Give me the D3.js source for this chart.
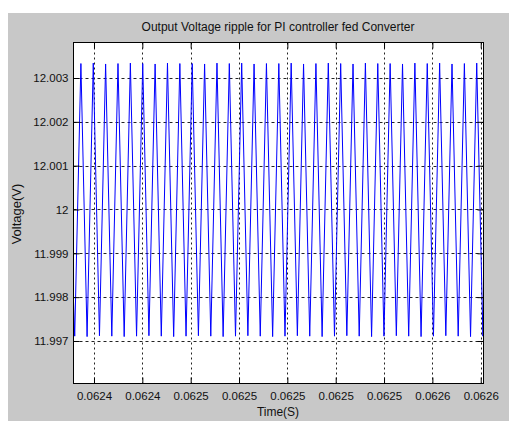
<!DOCTYPE html>
<html lang="en">

<head>
    <meta charset="UTF-8" />
    <script src="https://d3js.org/d3.v7.min.js"></script>
    <title>Output Voltage ripple</title>
    <style>
        body {
            margin: 0;
            background: #fff;
        }

        svg {
            display: block;
            font-family: "Liberation Sans", Arial, sans-serif;
        }
    </style>
</head>

<body>
    <svg width="509" height="421"></svg>
</body>
<script>
    // sample times (s): one start point, then peak / trough pairs, then end point
    const timeS = [
        0.06241152, 0.06241202,
        0.06241458, 0.06241714,
        0.06241970, 0.06242226,
        0.06242481, 0.06242737,
        0.06242993, 0.06243249,
        0.06243505, 0.06243761,
        0.06244017, 0.06244273,
        0.06244529, 0.06244784,
        0.06245040, 0.06245296,
        0.06245552, 0.06245808,
        0.06246064, 0.06246320,
        0.06246576, 0.06246832,
        0.06247088, 0.06247343,
        0.06247599, 0.06247855,
        0.06248111, 0.06248367,
        0.06248623, 0.06248879,
        0.06249135, 0.06249391,
        0.06249647, 0.06249902,
        0.06250158, 0.06250414,
        0.06250670, 0.06250926,
        0.06251182, 0.06251438,
        0.06251694, 0.06251950,
        0.06252206, 0.06252461,
        0.06252717, 0.06252973,
        0.06253229, 0.06253485,
        0.06253741, 0.06253997,
        0.06254253, 0.06254509,
        0.06254765, 0.06255020,
        0.06255276, 0.06255532,
        0.06255788, 0.06256044,
        0.06256300, 0.06256556,
        0.06256812, 0.06257068,
        0.06257324, 0.06257579,
        0.06257835, 0.06258091,
        0.06258115
    ]
    const voltage = [
        11.99790, 11.99711,
        12.00333, 11.99710,
        12.00334, 11.99712,
        12.00332, 11.99711,
        12.00333, 11.99710,
        12.00334, 11.99711,
        12.00333, 11.99712,
        12.00332, 11.99711,
        12.00334, 11.99710,
        12.00333, 11.99711,
        12.00333, 11.99712,
        12.00332, 11.99711,
        12.00334, 11.99710,
        12.00333, 11.99711,
        12.00334, 11.99712,
        12.00332, 11.99711,
        12.00333, 11.99710,
        12.00333, 11.99711,
        12.00334, 11.99712,
        12.00332, 11.99711,
        12.00333, 11.99710,
        12.00334, 11.99711,
        12.00333, 11.99712,
        12.00332, 11.99711,
        12.00334, 11.99710,
        12.00333, 11.99711,
        12.00333, 11.99712,
        12.00332, 11.99711,
        12.00334, 11.99710,
        12.00333, 11.99711,
        12.00334, 11.99712,
        12.00332, 11.99711,
        12.00333, 11.99710,
        12.00334, 11.99711,
        11.99769
    ]

    const timeTicks = [0.06242, 0.06244, 0.06246, 0.06248, 0.0625, 0.06252, 0.06254, 0.06256, 0.06258]
    const timeTickLabels = ["0.0624", "0.0624", "0.0625", "0.0625", "0.0625", "0.0625", "0.0625", "0.0626", "0.0626"]
    const voltTicks = [11.997, 11.998, 11.999, 12, 12.001, 12.002, 12.003]
    const voltTickLabels = ["11.997", "11.998", "11.999", "12", "12.001", "12.002", "12.003"]

    const box = { left: 73.5, right: 483.5, top: 42.5, bottom: 383.5 }

    const x = d3.scaleLinear().domain([0.06241152, 0.06258115]).range([box.left, box.right])
    const y = d3.scaleLinear().domain([11.99603, 12.00381]).range([box.bottom, box.top])

    const svg = d3.select("svg")

    // figure background
    svg.append("rect").attr("x", 8).attr("y", 13).attr("width", 501).attr("height", 408).attr("fill", "#c8c8c8")
    svg.append("rect").attr("x", box.left).attr("y", box.top)
        .attr("width", box.right - box.left).attr("height", box.bottom - box.top).attr("fill", "#fff")

    // grid
    const grid = svg.append("g").attr("stroke", "#222").attr("stroke-width", 1)
    grid.selectAll("line.v").data(timeTicks).enter().append("line").attr("class", "v")
        .attr("x1", d => Math.round(x(d)) + 0.5).attr("x2", d => Math.round(x(d)) + 0.5)
        .attr("y1", box.top).attr("y2", box.bottom).attr("stroke-dasharray", "2,3")
    grid.selectAll("line.h").data(voltTicks).enter().append("line").attr("class", "h")
        .attr("y1", d => Math.round(y(d)) + 0.5).attr("y2", d => Math.round(y(d)) + 0.5)
        .attr("x1", box.left).attr("x2", box.right).attr("stroke-dasharray", "3,3")

    // signal
    const pts = timeS.map((t, i) => [t, voltage[i]])
    svg.append("path").datum(pts)
        .attr("fill", "none").attr("stroke", "#0000ff").attr("stroke-width", 1)
        .attr("d", d3.line().x(d => x(d[0])).y(d => y(d[1])))

    // axes with inward ticks
    const fmtT = (d, i) => timeTickLabels[i]
    const fmtV = (d, i) => voltTickLabels[i]
    const xAxis = g => g.attr("transform", `translate(0,${box.bottom})`)
        .call(d3.axisBottom(x).tickValues(timeTicks).tickFormat(fmtT).tickSizeInner(-6).tickSizeOuter(0).tickPadding(8))
    const xTop = g => g.attr("transform", `translate(0,${box.top})`)
        .call(d3.axisTop(x).tickValues(timeTicks).tickFormat("").tickSizeInner(-6).tickSizeOuter(0))
    const yAxis = g => g.attr("transform", `translate(${box.left},0)`)
        .call(d3.axisLeft(y).tickValues(voltTicks).tickFormat(fmtV).tickSizeInner(-6).tickSizeOuter(0).tickPadding(5))
    const yRight = g => g.attr("transform", `translate(${box.right},0)`)
        .call(d3.axisRight(y).tickValues(voltTicks).tickFormat("").tickSizeInner(-6).tickSizeOuter(0))

    for (const ax of [xAxis, xTop, yAxis, yRight]) {
        svg.append("g").call(ax).call(g => {
            g.selectAll(".domain").remove()
            g.selectAll("text").attr("font-size", "11.5px").attr("fill", "#111")
                .attr("font-family", "'Liberation Sans', Arial, sans-serif")
            g.selectAll("line").attr("stroke", "#000")
        })
    }

    // box
    svg.append("rect").attr("x", box.left).attr("y", box.top)
        .attr("width", box.right - box.left).attr("height", box.bottom - box.top)
        .attr("fill", "none").attr("stroke", "#000")

    // labels
    svg.append("text").attr("x", 278).attr("y", 31).attr("text-anchor", "middle")
        .attr("font-size", "12px").attr("fill", "#111").text("Output Voltage ripple for PI controller fed Converter")
    svg.append("text").attr("x", 278).attr("y", 416).attr("text-anchor", "middle")
        .attr("font-size", "12px").attr("fill", "#111").text("Time(S)")
    svg.append("text").attr("transform", "translate(21,214) rotate(-90)").attr("text-anchor", "middle")
        .attr("font-size", "13px").attr("fill", "#111").text("Voltage(V)")
</script>

</html>
